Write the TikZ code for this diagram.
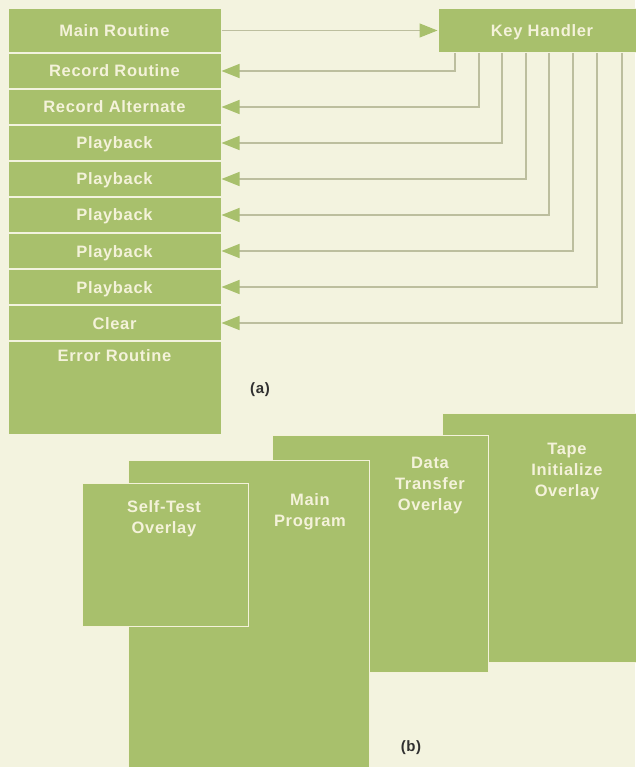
\documentclass[tikz,border=0pt]{standalone}
\usepackage{fontspec}
\usepackage{tikz}
\usetikzlibrary{arrows.meta, positioning}
\newfontfamily\hpsans[LetterSpace=4]{Liberation Sans}
\definecolor{paper}{HTML}{F3F3DF}
\definecolor{hpgreen}{HTML}{A8C06C}
\definecolor{hptext}{HTML}{F4F2DA}
\definecolor{wire}{HTML}{BCBE9E}
\definecolor{tagink}{HTML}{303030}

\begin{document}
\begin{tikzpicture}[x=1pt, y=1pt, node distance=0pt]
    \tikzstyle{rowbox} = [rectangle, fill=hpgreen, draw=paper, line width=1pt,
                          minimum width=213pt, minimum height=35pt, inner sep=0pt,
                          text height=12pt, text depth=0pt, text=hptext,
                          font=\hpsans\bfseries\fontsize{16.5}{20}\selectfont]
    \tikzstyle{ovlbox} = [rectangle, fill=hpgreen, draw=hptext, line width=1.2pt,
                          anchor=north west, inner sep=0pt]
    \tikzstyle{ovltext} = [anchor=north, align=center, inner sep=0pt, text=hptext,
                           font=\hpsans\bfseries\fontsize{16.5}{21}\selectfont]
    \tikzstyle{wireline} = [draw=wire, line width=1.3pt,
                            -{Triangle[length=18pt, width=14pt, color=hpgreen]}]
    \tikzstyle{tag} = [text=tagink, font=\hpsans\bfseries\fontsize{15}{18}\selectfont]

    \fill[paper] (0,0) rectangle (635,-767);
    \useasboundingbox (0,0) rectangle (635,-767);

    % (a) routine table
    \node [rowbox, minimum height=44pt] (main) at (114.5,-30.5) {Main Routine};
    \node [rowbox, below=of main] (rec) {Record Routine};
    \node [rowbox, below=of rec] (alt) {Record Alternate};
    \node [rowbox, below=of alt] (pb1) {Playback};
    \node [rowbox, below=of pb1] (pb2) {Playback};
    \node [rowbox, below=of pb2] (pb3) {Playback};
    \node [rowbox, below=of pb3] (pb4) {Playback};
    \node [rowbox, below=of pb4] (pb5) {Playback};
    \node [rowbox, below=of pb5] (clr) {Clear};
    \node [rowbox, below=of clr, text height=20pt, text depth=73pt] (err) {Error Routine};

    \node [rowbox, minimum width=208pt, minimum height=44pt] (kh) at (542,-30.5) {Key Handler};

    \draw[wireline] (main) -- (kh);
    \draw[wireline] ([xshift=17.5pt]kh.south west) |- (rec);
    \draw[wireline] ([xshift=41.5pt]kh.south west) |- (alt);
    \draw[wireline] ([xshift=64.5pt]kh.south west) |- (pb1);
    \draw[wireline] ([xshift=88.5pt]kh.south west) |- (pb2);
    \draw[wireline] ([xshift=111.5pt]kh.south west) |- (pb3);
    \draw[wireline] ([xshift=135.5pt]kh.south west) |- (pb4);
    \draw[wireline] ([xshift=159.5pt]kh.south west) |- (pb5);
    \draw[wireline] ([xshift=184.5pt]kh.south west) |- (clr);

    \node [tag] (taga) at (260,-390) {(a)};

    % (b) overlays
    \node [ovlbox, minimum width=250pt, minimum height=249pt] (tape) at (442,-413) {};
    \node [ovlbox, minimum width=216pt, minimum height=237pt] (xfer) at (272,-435) {};
    \node [ovlbox, minimum width=241pt, minimum height=330pt] (prog) at (128,-460) {};
    \node [ovlbox, minimum width=166pt, minimum height=143pt] (selft) at (82,-483) {};

    \node [ovltext] (tapetxt) at (567,-443) {Tape\\Initialize\\Overlay};
    \node [ovltext] (xfertxt) at (430,-457) {Data\\Transfer\\Overlay};
    \node [ovltext] (progtxt) at (310,-493) {Main\\Program};
    \node [ovltext] (selfttxt) at (164,-500) {Self-Test\\Overlay};

    \node [tag] (tagb) at (411,-748) {(b)};
\end{tikzpicture}
\end{document}
